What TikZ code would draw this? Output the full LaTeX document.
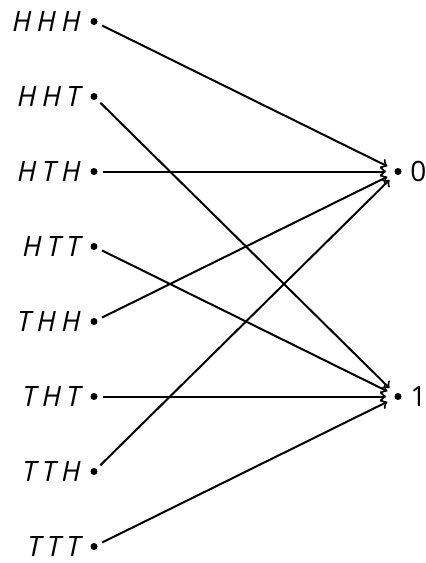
\documentclass[tikz,border=0pt]{standalone}
\usepackage{fontspec}
\setsansfont{Open Sans}
\newfontfamily\seqfont[LetterSpace=20]{Open Sans}
\usetikzlibrary{arrows,positioning}

\begin{document}
\begin{tikzpicture}[x=0.5pt, y=-0.5pt,
		dot/.style={circle, fill, inner sep=0pt, minimum size=3.5pt},
		seq/.style={inner sep=0pt, text height=10pt, text depth=0pt, label distance=4.5pt, font=\seqfont\itshape\fontsize{14}{17}\selectfont},
		val/.style={inner sep=0pt, text height=10pt, text depth=0pt, label distance=4pt, font=\sffamily\fontsize{14}{17}\selectfont}]
		\useasboundingbox (0,0) rectangle (425,563);
		\foreach \s [count=\i from 0] in {HHH,HHT,HTH,HTT,THH,THT,TTH,TTT}
			\node[dot, label={[seq]left:\s}] (\s) at (94, 21.5+75*\i) {};
		\node[dot, label={[val]right:0}] (v0) at (398, 171.5) {};
		\node[dot, label={[val]right:1}] (v1) at (398, 396.5) {};

		\foreach \s/\t in {HHH/v0,HHT/v1,HTH/v0,HTT/v1,THH/v0,THT/v1,TTH/v0,TTT/v1}
			\draw[->, line width=1pt, shorten <=2.5pt, shorten >=4pt] (\s) -- (\t);
	\end{tikzpicture}
\end{document}
